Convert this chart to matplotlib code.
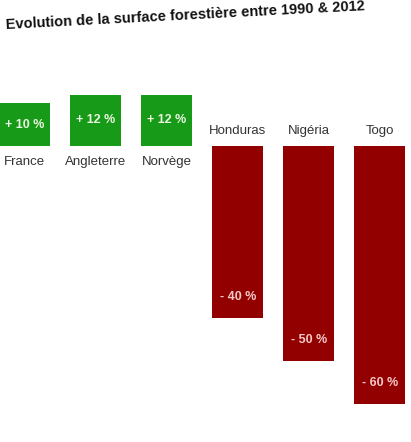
import matplotlib.pyplot as plt

plt.rcParams['font.family'] = ['Liberation Sans', 'DejaVu Sans']

pays = ['France', 'Angleterre', 'Norvège', 'Honduras', 'Nigéria', 'Togo']
evolution = [10, 12, 12, -40, -50, -60]
etiquettes = ['+ 10 %', '+ 12 %', '+ 12 %', '- 40 %', '- 50 %', '- 60 %']

vert = '#179a17'
rouge = '#930000'

fig = plt.figure(figsize=(4.11, 4.42), dpi=100)
ax = fig.add_axes([0, 0, 1, 1])

x = range(len(pays))
couleurs = [vert if v > 0 else rouge for v in evolution]
ax.bar(x, evolution, width=0.72, color=couleurs, edgecolor='none')

for i, v in enumerate(evolution):
    if v > 0:
        ax.text(i, v / 2, etiquettes[i], ha='center', va='center',
                color='#e8f5e0', fontsize=9, fontweight='bold')
        ax.text(i, -2.2, pays[i], ha='center', va='top',
                color='#333333', fontsize=9.5)
    else:
        ax.text(i, v + 5, etiquettes[i], ha='center', va='center',
                color='#f6c8c8', fontsize=9, fontweight='bold')
        ax.text(i, 2.2, pays[i], ha='center', va='bottom',
                color='#333333', fontsize=9.5)

ax.set_xlim(-0.35, 5.44)
ax.set_ylim(-68.8, 34)
ax.axis('off')

fig.text(0.015, 0.935, 'Evolution de la surface forestière entre 1990 & 2012',
         fontsize=10.5, fontweight='bold', color='#111111',
         rotation=3, rotation_mode='anchor', ha='left', va='baseline')

fig.savefig('out.png', dpi=100, facecolor='white')
